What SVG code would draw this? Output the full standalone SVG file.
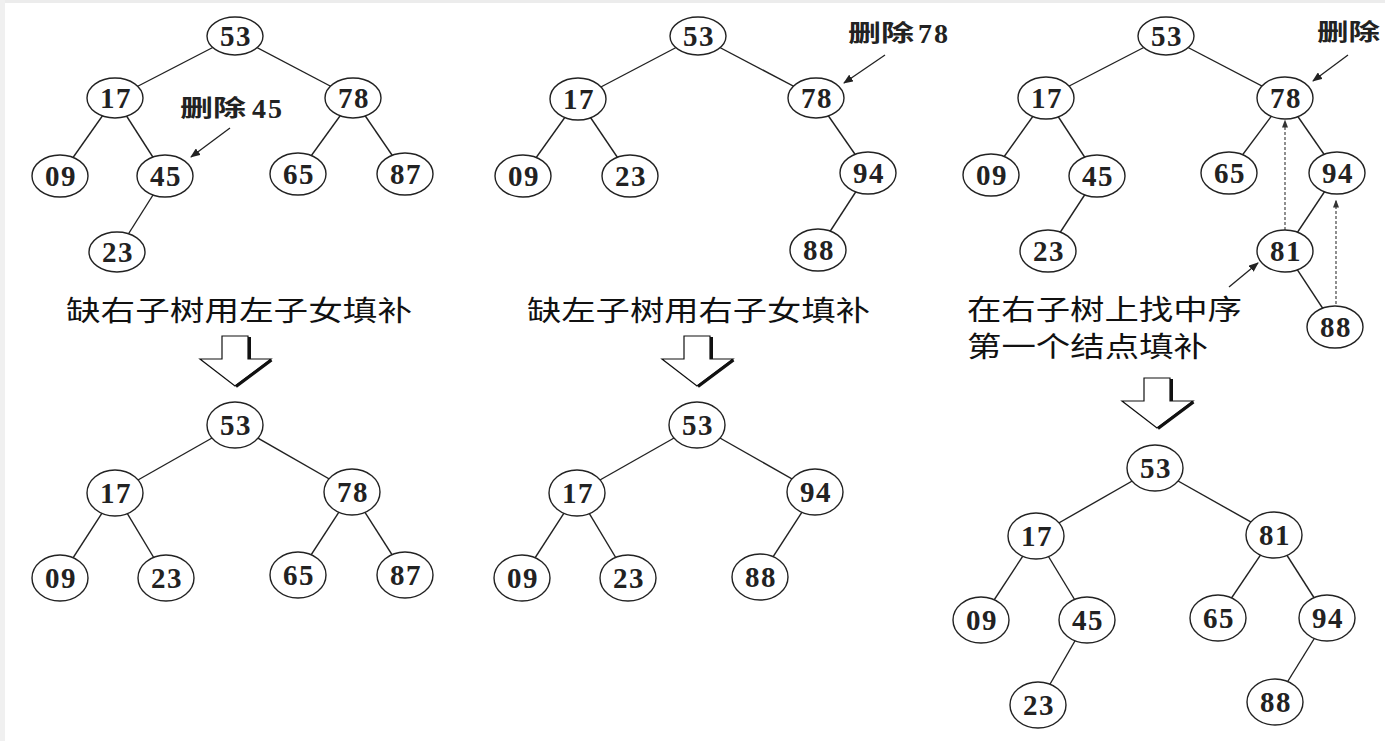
<svg xmlns="http://www.w3.org/2000/svg" width="1385" height="741" viewBox="0 0 1385 741">
<style>
.bg{fill:#ffffff}
.edge{stroke:#222;stroke-width:1.4;fill:none}
.node ellipse{fill:#fff;stroke:#222;stroke-width:1.4}
.node text{font-family:"Liberation Serif",serif;font-weight:bold;font-size:29px;fill:#222;text-anchor:middle;letter-spacing:1.5px}
.ann{stroke:#222;stroke-width:1.3;fill:none}
.dash{stroke:#333;stroke-width:1.1;fill:none;stroke-dasharray:3 2}
.cap{font-family:"Noto Sans CJK SC",sans-serif;font-size:28px;fill:#111}
.lbl{font-family:"Noto Sans CJK SC",sans-serif;font-weight:bold;font-size:23px;fill:#222}
.lbl .dg{font-family:"Liberation Serif",serif;font-weight:bold;font-size:28px;letter-spacing:2px}
.big{fill:#fff;stroke:#111;stroke-width:1.2;stroke-linejoin:miter}
.bigsh{stroke:#111;stroke-width:3;fill:none}
</style>
<defs>
<marker id="ah" viewBox="0 0 10 8" refX="9" refY="4" markerWidth="10" markerHeight="8" markerUnits="userSpaceOnUse" orient="auto">
<path d="M0,0 L10,4 L0,8 Z" fill="#222"/>
</marker>
<marker id="ahd" viewBox="0 0 8 6" refX="7.5" refY="3" markerWidth="8" markerHeight="6" markerUnits="userSpaceOnUse" orient="auto">
<path d="M0,0 L8,3 L0,6 Z" fill="#333"/>
</marker>
<g id="bigArrow">
<polygon class="big" points="-13,0 13,0 13,23 36,23 0,50 -35,23 -13,23"/>
<path class="bigsh" d="M14.5,1 V23 M36.5,24 L1,50.5"/>
</g>
</defs>
<rect class="bg" x="0" y="0" width="1385" height="741"/>
<rect x="0" y="0" width="1385" height="3" fill="#ececec"/>
<rect x="0" y="0" width="5" height="741" fill="#f0f0f0"/>

<g id="connectors">
<line class="edge" x1="235" y1="36" x2="115" y2="98"/>
<line class="edge" x1="235" y1="36" x2="353" y2="98"/>
<line class="edge" x1="115" y1="98" x2="60" y2="176"/>
<line class="edge" x1="115" y1="98" x2="165" y2="176"/>
<line class="edge" x1="165" y1="176" x2="117" y2="252"/>
<line class="edge" x1="353" y1="98" x2="298" y2="174"/>
<line class="edge" x1="353" y1="98" x2="405" y2="174"/>
<line class="edge" x1="235" y1="425" x2="115" y2="493"/>
<line class="edge" x1="235" y1="425" x2="352" y2="492"/>
<line class="edge" x1="115" y1="493" x2="60" y2="578"/>
<line class="edge" x1="115" y1="493" x2="166" y2="578"/>
<line class="edge" x1="352" y1="492" x2="298" y2="575"/>
<line class="edge" x1="352" y1="492" x2="405" y2="575"/>
<line class="edge" x1="698" y1="36" x2="578" y2="99"/>
<line class="edge" x1="698" y1="36" x2="816" y2="98"/>
<line class="edge" x1="578" y1="99" x2="523" y2="176"/>
<line class="edge" x1="578" y1="99" x2="630" y2="176"/>
<line class="edge" x1="816" y1="98" x2="868" y2="173"/>
<line class="edge" x1="868" y1="173" x2="818" y2="250"/>
<line class="edge" x1="697" y1="425" x2="577" y2="493"/>
<line class="edge" x1="697" y1="425" x2="815" y2="492"/>
<line class="edge" x1="577" y1="493" x2="522" y2="578"/>
<line class="edge" x1="577" y1="493" x2="628" y2="578"/>
<line class="edge" x1="815" y1="492" x2="760" y2="577"/>
<line class="edge" x1="1166" y1="36" x2="1046" y2="98"/>
<line class="edge" x1="1166" y1="36" x2="1285" y2="98"/>
<line class="edge" x1="1046" y1="98" x2="991" y2="175"/>
<line class="edge" x1="1046" y1="98" x2="1097" y2="176"/>
<line class="edge" x1="1097" y1="176" x2="1048" y2="251"/>
<line class="edge" x1="1285" y1="98" x2="1229" y2="173"/>
<line class="edge" x1="1285" y1="98" x2="1337" y2="173"/>
<line class="edge" x1="1337" y1="173" x2="1285" y2="251"/>
<line class="edge" x1="1285" y1="251" x2="1335" y2="327"/>
<line class="edge" x1="1155" y1="468" x2="1036" y2="536"/>
<line class="edge" x1="1155" y1="468" x2="1274" y2="535"/>
<line class="edge" x1="1036" y1="536" x2="981" y2="620"/>
<line class="edge" x1="1036" y1="536" x2="1087" y2="620"/>
<line class="edge" x1="1087" y1="620" x2="1038" y2="705"/>
<line class="edge" x1="1274" y1="535" x2="1218" y2="618"/>
<line class="edge" x1="1274" y1="535" x2="1327" y2="618"/>
<line class="edge" x1="1327" y1="618" x2="1275" y2="702"/>
<line class="ann" x1="230" y1="128" x2="191" y2="157" marker-end="url(#ah)"/>
<line class="ann" x1="885" y1="55" x2="844" y2="83" marker-end="url(#ah)"/>
<line class="ann" x1="1348" y1="55" x2="1313" y2="81" marker-end="url(#ah)"/>
<line class="ann" x1="1229" y1="287" x2="1258" y2="263" marker-end="url(#ah)"/>
<line class="dash" x1="1285" y1="230" x2="1285" y2="120" marker-end="url(#ahd)"/>
<line class="dash" x1="1336" y1="304" x2="1336" y2="200" marker-end="url(#ahd)"/>
</g>

<g id="p1t-53" class="node"><ellipse cx="235" cy="36" rx="28" ry="19"/><text x="236" y="46">53</text></g>
<g id="p1t-17" class="node"><ellipse cx="115" cy="98" rx="28" ry="20"/><text x="116" y="108">17</text></g>
<g id="p1t-78" class="node"><ellipse cx="353" cy="98" rx="28" ry="20"/><text x="354" y="108">78</text></g>
<g id="p1t-09" class="node"><ellipse cx="60" cy="176" rx="28" ry="21"/><text x="61" y="186">09</text></g>
<g id="p1t-45" class="node"><ellipse cx="165" cy="176" rx="28" ry="21"/><text x="166" y="186">45</text></g>
<g id="p1t-65" class="node"><ellipse cx="298" cy="174" rx="28" ry="21"/><text x="299" y="184">65</text></g>
<g id="p1t-87" class="node"><ellipse cx="405" cy="174" rx="28" ry="21"/><text x="406" y="184">87</text></g>
<g id="p1t-23" class="node"><ellipse cx="117" cy="252" rx="28" ry="20"/><text x="118" y="262">23</text></g>

<g id="p1b-53" class="node"><ellipse cx="235" cy="425" rx="28" ry="23"/><text x="236" y="435">53</text></g>
<g id="p1b-17" class="node"><ellipse cx="115" cy="493" rx="28" ry="23"/><text x="116" y="503">17</text></g>
<g id="p1b-78" class="node"><ellipse cx="352" cy="492" rx="28" ry="23"/><text x="353" y="502">78</text></g>
<g id="p1b-09" class="node"><ellipse cx="60" cy="578" rx="28" ry="23"/><text x="61" y="588">09</text></g>
<g id="p1b-23" class="node"><ellipse cx="166" cy="578" rx="28" ry="23"/><text x="167" y="588">23</text></g>
<g id="p1b-65" class="node"><ellipse cx="298" cy="575" rx="28" ry="23"/><text x="299" y="585">65</text></g>
<g id="p1b-87" class="node"><ellipse cx="405" cy="575" rx="28" ry="23"/><text x="406" y="585">87</text></g>

<g id="p2t-53" class="node"><ellipse cx="698" cy="36" rx="28" ry="19"/><text x="699" y="46">53</text></g>
<g id="p2t-17" class="node"><ellipse cx="578" cy="99" rx="28" ry="21"/><text x="579" y="109">17</text></g>
<g id="p2t-78" class="node"><ellipse cx="816" cy="98" rx="28" ry="20"/><text x="817" y="108">78</text></g>
<g id="p2t-09" class="node"><ellipse cx="523" cy="176" rx="28" ry="21"/><text x="524" y="186">09</text></g>
<g id="p2t-23" class="node"><ellipse cx="630" cy="176" rx="28" ry="21"/><text x="631" y="186">23</text></g>
<g id="p2t-94" class="node"><ellipse cx="868" cy="173" rx="28" ry="21"/><text x="869" y="183">94</text></g>
<g id="p2t-88" class="node"><ellipse cx="818" cy="250" rx="28" ry="21"/><text x="819" y="260">88</text></g>

<g id="p2b-53" class="node"><ellipse cx="697" cy="425" rx="28" ry="23"/><text x="698" y="435">53</text></g>
<g id="p2b-17" class="node"><ellipse cx="577" cy="493" rx="28" ry="23"/><text x="578" y="503">17</text></g>
<g id="p2b-94" class="node"><ellipse cx="815" cy="492" rx="28" ry="23"/><text x="816" y="502">94</text></g>
<g id="p2b-09" class="node"><ellipse cx="522" cy="578" rx="28" ry="23"/><text x="523" y="588">09</text></g>
<g id="p2b-23" class="node"><ellipse cx="628" cy="578" rx="28" ry="23"/><text x="629" y="588">23</text></g>
<g id="p2b-88" class="node"><ellipse cx="760" cy="577" rx="28" ry="23"/><text x="761" y="587">88</text></g>

<g id="p3t-53" class="node"><ellipse cx="1166" cy="36" rx="28" ry="19"/><text x="1167" y="46">53</text></g>
<g id="p3t-17" class="node"><ellipse cx="1046" cy="98" rx="28" ry="21"/><text x="1047" y="108">17</text></g>
<g id="p3t-78" class="node"><ellipse cx="1285" cy="98" rx="28" ry="21"/><text x="1286" y="108">78</text></g>
<g id="p3t-09" class="node"><ellipse cx="991" cy="175" rx="28" ry="21"/><text x="992" y="185">09</text></g>
<g id="p3t-45" class="node"><ellipse cx="1097" cy="176" rx="28" ry="21"/><text x="1098" y="186">45</text></g>
<g id="p3t-65" class="node"><ellipse cx="1229" cy="173" rx="28" ry="21"/><text x="1230" y="183">65</text></g>
<g id="p3t-94" class="node"><ellipse cx="1337" cy="173" rx="28" ry="21"/><text x="1338" y="183">94</text></g>
<g id="p3t-23" class="node"><ellipse cx="1048" cy="251" rx="28" ry="21"/><text x="1049" y="261">23</text></g>
<g id="p3t-81" class="node"><ellipse cx="1285" cy="251" rx="28" ry="21"/><text x="1286" y="261">81</text></g>
<g id="p3t-88" class="node"><ellipse cx="1335" cy="327" rx="28" ry="21"/><text x="1336" y="337">88</text></g>

<g id="p3b-53" class="node"><ellipse cx="1155" cy="468" rx="28" ry="23"/><text x="1156" y="478">53</text></g>
<g id="p3b-17" class="node"><ellipse cx="1036" cy="536" rx="28" ry="23"/><text x="1037" y="546">17</text></g>
<g id="p3b-81" class="node"><ellipse cx="1274" cy="535" rx="28" ry="23"/><text x="1275" y="545">81</text></g>
<g id="p3b-09" class="node"><ellipse cx="981" cy="620" rx="28" ry="23"/><text x="982" y="630">09</text></g>
<g id="p3b-45" class="node"><ellipse cx="1087" cy="620" rx="28" ry="23"/><text x="1088" y="630">45</text></g>
<g id="p3b-65" class="node"><ellipse cx="1218" cy="618" rx="28" ry="23"/><text x="1219" y="628">65</text></g>
<g id="p3b-94" class="node"><ellipse cx="1327" cy="618" rx="28" ry="23"/><text x="1328" y="628">94</text></g>
<g id="p3b-23" class="node"><ellipse cx="1038" cy="705" rx="28" ry="23"/><text x="1039" y="715">23</text></g>
<g id="p3b-88" class="node"><ellipse cx="1275" cy="702" rx="28" ry="23"/><text x="1276" y="712">88</text></g>

<g id="labels">
<text class="lbl" x="180" y="116"><tspan textLength="66" lengthAdjust="spacingAndGlyphs">删除</tspan><tspan class="dg" x="252" y="118">45</tspan></text>
<text class="lbl" x="848" y="41"><tspan textLength="66" lengthAdjust="spacingAndGlyphs">删除</tspan><tspan class="dg" x="918" y="43">78</tspan></text>
<text class="lbl" x="1317" y="40" textLength="63" lengthAdjust="spacingAndGlyphs">删除</text>
<text class="cap" x="66" y="321" textLength="346" lengthAdjust="spacingAndGlyphs">缺右子树用左子女填补</text>
<text class="cap" x="527" y="321" textLength="343" lengthAdjust="spacingAndGlyphs">缺左子树用右子女填补</text>
<text class="cap" x="967" y="320" textLength="275" lengthAdjust="spacingAndGlyphs">在右子树上找中序</text>
<text class="cap" x="967" y="357" textLength="241" lengthAdjust="spacingAndGlyphs">第一个结点填补</text>
</g>

<g id="bigarrows">
<use href="#bigArrow" transform="translate(235,336)"/>
<use href="#bigArrow" transform="translate(697,336)"/>
<use href="#bigArrow" transform="translate(1157,378)"/>
</g>
</svg>
